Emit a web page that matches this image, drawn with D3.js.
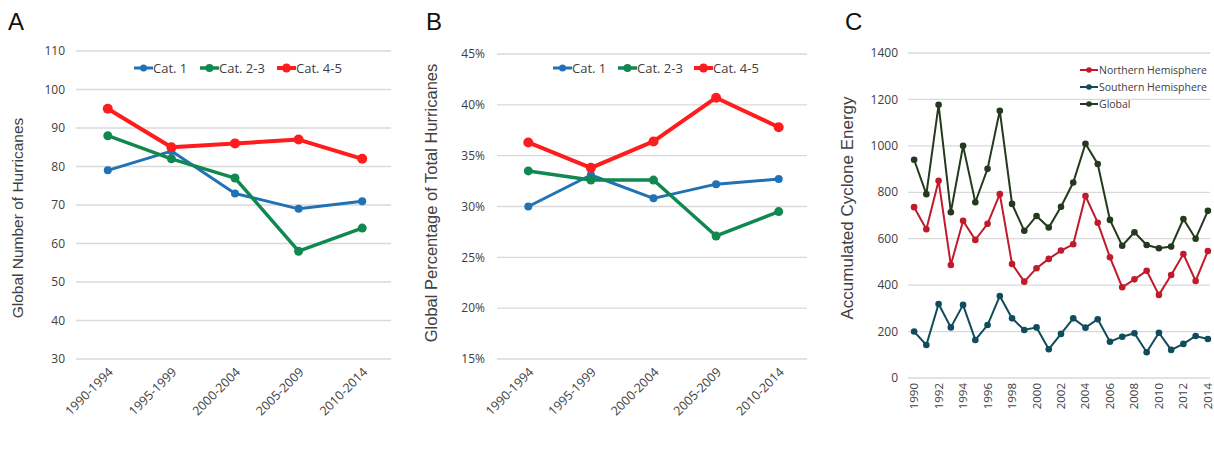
<!DOCTYPE html>
<html>
<head>
<meta charset="utf-8">
<script src="https://cdn.jsdelivr.net/npm/d3@7"></script>
<style>
  body { margin: 0; background: #fff; }
  svg { display: block; font-family: "Liberation Sans", Arial, sans-serif; }
  .tick-lab { font-family: "Open Sans", "Noto Sans", sans-serif; fill: #404040; }
</style>
</head>
<body>
<div id="chart"></div>
<script>
// periods for panels A and B
const periods = ["1990-1994", "1995-1999", "2000-2004", "2005-2009", "2010-2014"];
const catNames = ["Cat. 1", "Cat. 2-3", "Cat. 4-5"];

// A: global number of hurricanes
const countCat1 = [79, 84, 73, 69, 71];
const countCat23 = [88, 82, 77, 58, 64];
const countCat45 = [95, 85, 86, 87, 82];

// B: percentage of total hurricanes
const pctCat1 = [30.0, 33.1, 30.8, 32.2, 32.7];
const pctCat23 = [33.5, 32.6, 32.6, 27.1, 29.5];
const pctCat45 = [36.3, 33.8, 36.4, 40.7, 37.8];

const ticksA = [30, 40, 50, 60, 70, 80, 90, 100, 110];
const ticksB = [15, 20, 25, 30, 35, 40, 45];

// C: accumulated cyclone energy
const years = d3.range(1990, 2015);
const aceNorth = [736, 641, 850, 487, 677, 595, 664, 792, 491, 415, 473, 513, 549, 576, 784, 669, 520, 391, 425, 462, 358, 444, 534, 418, 547];
const aceSouth = [200, 142, 319, 218, 315, 164, 228, 353, 257, 207, 218, 124, 190, 257, 217, 253, 156, 178, 193, 111, 195, 121, 147, 181, 168];
const aceGlobal = [940, 792, 1177, 714, 1000, 757, 901, 1151, 750, 634, 698, 648, 738, 842, 1009, 922, 681, 570, 628, 573, 559, 566, 685, 600, 720];
const ticksC = [0, 200, 400, 600, 800, 1000, 1200, 1400];
const aceNames = ["Northern Hemisphere", "Southern Hemisphere", "Global"];

const catColors = ["#2072b4", "#108850", "#ff1c1c"];
const catWidths = [3, 3.5, 4];
const catRadius = [4, 4.5, 5];
const aceColors = ["#c01a2c", "#114c5c", "#243a1e"];

const svg = d3.select("#chart").append("svg")
  .attr("width", 1214).attr("height", 450);

function gridAndY(g, y, ticks, x0, x1, labX, fmt) {
  g.selectAll("line.grid").data(ticks).enter().append("line")
    .attr("class", "grid")
    .attr("x1", x0).attr("x2", x1)
    .attr("y1", d => y(d)).attr("y2", d => y(d))
    .attr("stroke", "#d9d9d9").attr("stroke-width", 1.3);
  g.selectAll("text.ylab").data(ticks).enter().append("text")
    .attr("class", "ylab tick-lab")
    .attr("x", labX).attr("y", d => y(d)).attr("dy", "0.35em")
    .attr("text-anchor", "end").attr("font-size", 12)
    .text(fmt);
}

function panelCats(opts) {
  const g = svg.append("g");
  const x = d3.scalePoint().domain(periods).range(opts.xr).padding(0.5);
  const y = d3.scaleLinear().domain(opts.yd).range(opts.yr);
  gridAndY(g, y, opts.ticks, opts.xr[0], opts.xr[1] - 3, opts.labX, opts.fmt);

  // rotated category labels
  g.selectAll("text.xlab").data(periods).enter().append("text")
    .attr("class", "xlab tick-lab")
    .attr("font-size", 12.5)
    .attr("text-anchor", "end")
    .attr("transform", d => `translate(${x(d) + 6},${opts.yr[0] + 14}) rotate(-45)`)
    .text(d => d);

  const line = d3.line().x((d, i) => x(periods[i])).y(d => y(d));
  opts.series.forEach((vals, k) => {
    g.append("path").datum(vals)
      .attr("d", line).attr("fill", "none")
      .attr("stroke", catColors[k]).attr("stroke-width", catWidths[k])
      .attr("stroke-linejoin", "round");
    g.selectAll(null).data(vals).enter().append("circle")
      .attr("cx", (d, i) => x(periods[i])).attr("cy", d => y(d))
      .attr("r", catRadius[k]).attr("fill", catColors[k]);
  });

  // legend
  catNames.forEach((n, k) => {
    const lx = opts.legX[k];
    g.append("line").attr("x1", lx).attr("x2", lx + 19)
      .attr("y1", opts.legY).attr("y2", opts.legY)
      .attr("stroke", catColors[k]).attr("stroke-width", catWidths[k]);
    g.append("circle").attr("cx", lx + 9.5).attr("cy", opts.legY)
      .attr("r", catRadius[k] - 0.5).attr("fill", catColors[k]);
    g.append("text").attr("class", "tick-lab").attr("x", lx + 19).attr("y", opts.legY)
      .attr("dy", "0.35em").attr("font-size", 13)
      .text(n);
  });

  svg.append("text").attr("x", opts.titleX).attr("y", 30)
    .attr("font-size", 24).attr("fill", "#111").text(opts.letter);
  svg.append("text")
    .attr("transform", `translate(${opts.axX},${opts.axY}) rotate(-90)`)
    .attr("text-anchor", "middle").attr("font-size", opts.axSize).attr("fill", "#404040")
    .text(opts.yTitle);
}

panelCats({
  letter: "A", titleX: 8,
  xr: [76, 394], yd: [30, 110], yr: [359, 51], ticks: ticksA,
  labX: 65, fmt: d => d,
  series: [countCat1, countCat23, countCat45],
  legX: [134, 200, 277], legY: 68,
  axX: 23, axY: 218, axSize: 15.5, yTitle: "Global Number of Hurricanes"
});

panelCats({
  letter: "B", titleX: 426,
  xr: [497, 810], yd: [15, 45], yr: [359, 54], ticks: ticksB,
  labX: 485, fmt: d => d + "%",
  series: [pctCat1, pctCat23, pctCat45],
  legX: [553, 618, 694], legY: 68,
  axX: 437, axY: 203, axSize: 16.5, yTitle: "Global Percentage of Total Hurricanes"
});

// Panel C
(function () {
  const g = svg.append("g");
  const x = d3.scalePoint().domain(years).range([908, 1214]).padding(0.5);
  const y = d3.scaleLinear().domain([0, 1400]).range([378, 53]);
  gridAndY(g, y, ticksC, 908, 1210, 898, d => d);

  g.selectAll("text.xlab").data(years.filter(d => d % 2 === 0)).enter().append("text")
    .attr("class", "xlab tick-lab")
    .attr("font-size", 11.5).attr("text-anchor", "end")
    .attr("transform", d => `translate(${x(d) + 4},${383}) rotate(-90)`)
    .text(d => d);

  const line = d3.line().x((d, i) => x(years[i])).y(d => y(d));
  [aceNorth, aceSouth, aceGlobal].forEach((vals, k) => {
    g.append("path").datum(vals)
      .attr("d", line).attr("fill", "none")
      .attr("stroke", aceColors[k]).attr("stroke-width", 2);
    g.selectAll(null).data(vals).enter().append("circle")
      .attr("cx", (d, i) => x(years[i])).attr("cy", d => y(d))
      .attr("r", 3.3).attr("fill", aceColors[k]);
  });

  aceNames.forEach((n, k) => {
    const ly = 70 + k * 17;
    g.append("line").attr("x1", 1080).attr("x2", 1098)
      .attr("y1", ly).attr("y2", ly)
      .attr("stroke", aceColors[k]).attr("stroke-width", 2);
    g.append("circle").attr("cx", 1089).attr("cy", ly).attr("r", 2.8).attr("fill", aceColors[k]);
    g.append("text").attr("class", "tick-lab").attr("x", 1099).attr("y", ly)
      .attr("dy", "0.35em").attr("font-size", 10.5)
      .text(n);
  });

  svg.append("text").attr("x", 845).attr("y", 30)
    .attr("font-size", 24).attr("fill", "#111").text("C");
  svg.append("text")
    .attr("transform", `translate(853,208) rotate(-90)`)
    .attr("text-anchor", "middle").attr("font-size", 17).attr("fill", "#404040")
    .text("Accumulated Cyclone Energy");
})();
</script>
</body>
</html>
